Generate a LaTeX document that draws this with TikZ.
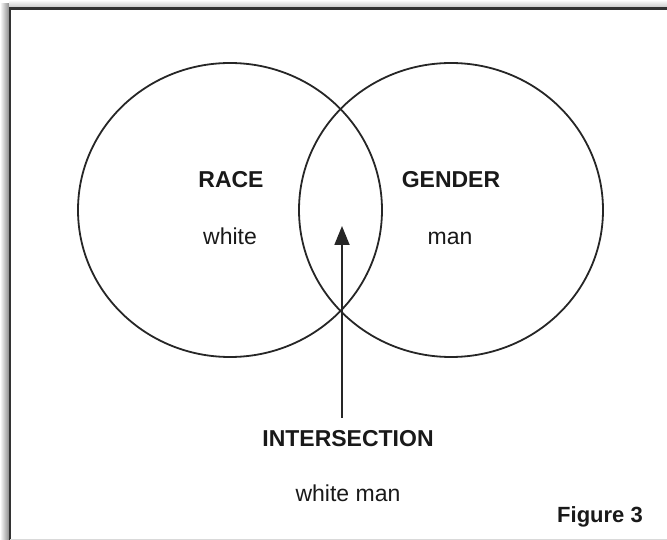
\documentclass[tikz,border=0pt]{standalone}
\usepackage{fontspec}
\setmainfont{Liberation Sans}
\usetikzlibrary{positioning,arrows.meta,shapes.geometric}

\begin{document}
\begin{tikzpicture}[x=1pt, y=-1pt, >={Triangle[length=19pt,width=15pt]},
  set/.style={draw=black!85, line width=1.8pt, ellipse,
              minimum width=304pt, minimum height=294pt, inner sep=0pt},
  title/.style={font=\fontsize{23}{26}\selectfont\bfseries,
                text=black!90, anchor=base, inner sep=0pt},
  value/.style={font=\fontsize{23}{26}\selectfont,
                text=black!90, anchor=base, inner sep=0pt}]
  \useasboundingbox (0,0) rectangle (667,540);
  \clip (0,0) rectangle (667,540);
  % frame and its shadow
  \shade[left color=white, right color=black!45] (0,4) rectangle (9,540);
  \shade[top color=white, bottom color=black!20] (9,0) rectangle (667,7);
  \draw[black!80, line width=2.5pt] (10,560) -- (10,8.5) -- (690,8.5);
  \draw[black!15, line width=1pt] (10,539.5) -- (667,539.5);

  % the two sets
  \node (racec) [set] at (230,210) {};
  \node (genderc) [set] at (451,210) {};

  \node (race) [title] at (231,188) {RACE};
  \node (gender) [title] at (451,188) {GENDER};
  \node (white) [value] at (230,245) {white};
  \node (man) [value] at (450,245) {man};

  \node (isect) [title] at (348,446) {INTERSECTION};
  \node (whiteman) [value] at (348,501) {white man};
  \node (fig) [title, font=\fontsize{22}{25}\selectfont\bfseries] at (600,522) {Figure 3};

  \coordinate (tip) at (342,226);
  \draw[->, black!85, line width=1.8pt, shorten <=12pt] (isect.north -| tip) -- (tip);
\end{tikzpicture}
\end{document}
